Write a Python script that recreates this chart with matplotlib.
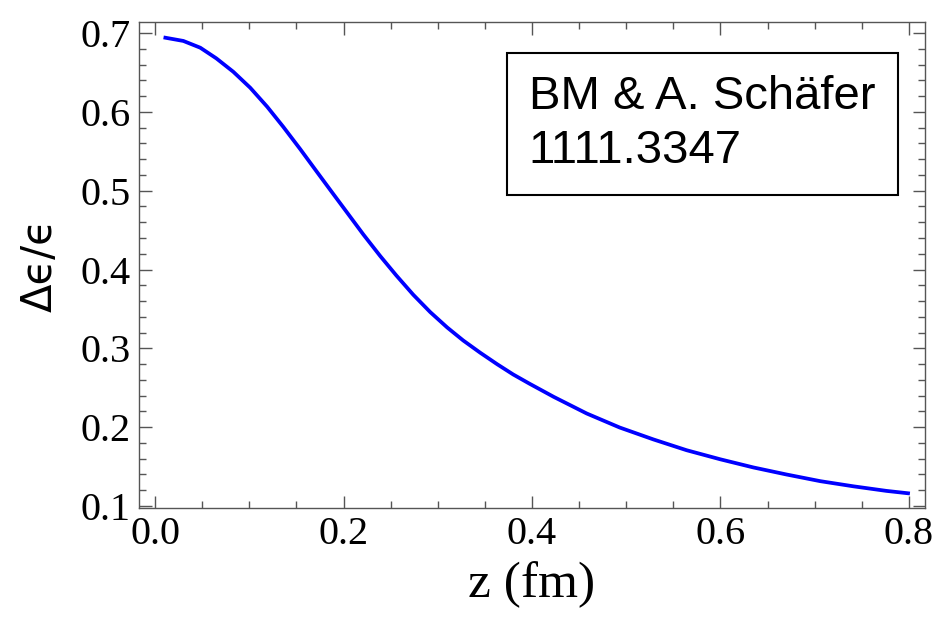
import matplotlib
matplotlib.use("Agg")
import matplotlib.pyplot as plt

# values
z_fm = [0.009, 0.030, 0.048, 0.065, 0.083, 0.101, 0.119, 0.136, 0.154, 0.172,
        0.189, 0.203, 0.221, 0.239, 0.256, 0.274, 0.292, 0.310, 0.327, 0.345,
        0.363, 0.380, 0.397, 0.423, 0.458, 0.493, 0.529, 0.564, 0.600, 0.635,
        0.670, 0.706, 0.741, 0.776, 0.801]
de_over_e = [0.6945, 0.6900, 0.6814, 0.6679, 0.6509, 0.6306, 0.6065, 0.5811, 0.5528, 0.5235,
             0.4960, 0.4735, 0.4445, 0.4170, 0.3925, 0.3680, 0.3460, 0.3265, 0.3100, 0.2945,
             0.2799, 0.2669, 0.2554, 0.2385, 0.2174, 0.1996, 0.1844, 0.1708, 0.1592, 0.1489,
             0.1400, 0.1315, 0.1250, 0.1192, 0.1159]

x_ticks = [0.0, 0.2, 0.4, 0.6, 0.8]
x_labels = ["0.0", "0.2", "0.4", "0.6", "0.8"]
y_ticks = [0.1, 0.2, 0.3, 0.4, 0.5, 0.6, 0.7]
y_labels = ["0.1", "0.2", "0.3", "0.4", "0.5", "0.6", "0.7"]

fig = plt.figure(figsize=(9.35, 6.22), dpi=100)
ax = fig.add_axes([0.1487, 0.1833, 0.9893 - 0.1487, 0.9646 - 0.1833])

ax.plot(z_fm, de_over_e, color="#0000ff", lw=2.7, solid_capstyle="butt",
        solid_joinstyle="round")

ax.set_xlim(-0.017, 0.817)
ax.set_ylim(0.0975, 0.714)

ax.set_xticks(x_ticks)
ax.set_xticklabels(x_labels)
ax.set_yticks(y_ticks)
ax.set_yticklabels(y_labels)
ax.set_xticks([i * 0.05 for i in range(17)], minor=True)
ax.set_yticks([0.1 + i * 0.02 for i in range(31)], minor=True)

for s in ax.spines.values():
    s.set_color("#555555")
    s.set_linewidth(1.0)

ax.tick_params(which="both", direction="in", top=True, right=True,
               color="#555555", width=1.0)
ax.tick_params(which="major", length=9)
ax.tick_params(which="minor", length=5)
ax.tick_params(axis="both", which="major", labelsize=29, pad=6)
for lab in ax.get_xticklabels() + ax.get_yticklabels():
    lab.set_fontfamily("Liberation Serif")

ax.set_xlabel("z (fm)", fontsize=37, family="Liberation Serif", labelpad=6)
ax.set_ylabel("\u0394\u03f5/\u03f5", fontsize=30, family="DejaVu Sans", labelpad=14)

ax.text(0.496, 0.891, "BM & A. Sch\u00e4fer\n1111.3347", transform=ax.transAxes,
        fontsize=34, family="Liberation Sans", va="top", ha="left", linespacing=1.3,
        bbox=dict(boxstyle="square,pad=0.47", fc="white", ec="black", lw=1.5))

fig.savefig("out.png", dpi=100)
